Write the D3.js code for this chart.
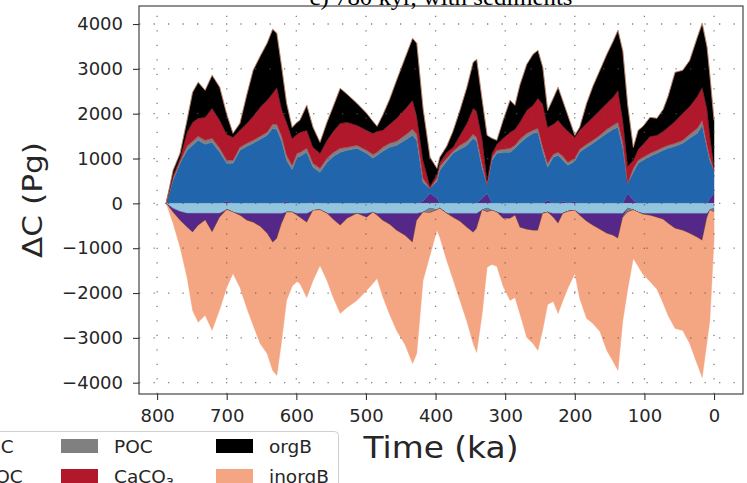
<!DOCTYPE html>
<html><head><meta charset="utf-8">
<script src="https://cdn.jsdelivr.net/npm/d3@7"></script>
<style>body{margin:0;background:#fff}svg{display:block}</style>
</head><body>
<svg id="c" width="747" height="483"></svg>
<script>
// ---- data (Pg C) ----
const timeKa = [787,777,767,757,749,741,731,721,710,700,691,681,671,662,652,642,634,628,621,614,606,599,595,585,576,566,556,547,537,527,513,499,490,484,476,466,456,444,433,427,418,408,398,394,384,375,365,355,346,341,333,326,319,312,303,293,286,279,269,260,253,246,239,231,224,217,210,200,193,183,174,164,154,145,138,131,124,116,109,102,92,82,73,66,56,45,35,24,17,10,6,0];
const DOC    = [0,-112,-180,-223,-223,-223,-223,-223,-223,-140,-200,-225,-225,-225,-225,-225,-225,-225,-225,-200,-200,-225,-225,-225,-160,-150,-225,-225,-225,-225,-225,-225,-200,-225,-225,-225,-225,-225,-225,-225,-200,-110,-150,-112,-225,-225,-225,-225,-225,-225,-150,-110,-160,-200,-225,-225,-225,-225,-225,-225,-225,-225,-200,-225,-225,-225,-180,-160,-225,-225,-225,-225,-225,-225,-225,-225,-110,-150,-200,-225,-225,-225,-225,-225,-225,-225,-225,-225,-225,-225,-150,-110];
const landC  = [0,-90,-200,-312,-424,-268,-156,-424,-89,45,0,-45,-156,-201,-290,-446,-647,-558,-223,45,0,-45,-89,-201,30,0,0,-134,-268,-112,0,-89,20,-45,-156,-245,-379,-491,-647,-156,45,223,112,0,0,-89,-178,-312,-424,-335,112,223,0,0,-112,-112,-45,-312,-357,-379,-379,0,67,-89,-223,45,0,45,-45,-178,-268,-357,-446,-491,-558,-89,223,67,0,-22,-45,-89,-134,-223,-335,-379,-446,-535,-602,-89,112,223];
const DIC    = [0,513,893,1183,1294,1406,1317,1361,1138,848,893,1183,1272,1339,1428,1518,1674,1650,1383,915,758,1026,1048,1138,773,692,915,1048,1138,1183,1228,1116,984,1071,1160,1250,1294,1406,1518,1406,423,112,379,736,937,1116,1205,1294,1450,1383,669,201,959,1116,1138,1138,1228,1339,1473,1562,1584,1160,736,1026,1071,915,848,892,1138,1250,1339,1450,1562,1651,1696,1228,223,625,892,959,1048,1116,1183,1228,1272,1339,1450,1562,1741,1228,848,513];
const POC    = [0,45,45,89,89,89,89,89,89,67,67,67,67,67,67,67,89,112,112,112,89,89,89,89,89,89,89,89,89,67,67,67,89,67,89,89,89,112,134,134,89,-100,67,89,67,45,89,89,89,89,89,-80,67,67,67,89,67,89,89,67,89,89,89,67,67,89,67,67,67,67,67,67,89,89,112,112,-80,89,67,67,67,67,67,67,67,67,89,112,112,67,67,-80];
const CaCO3  = [0,67,67,312,424,402,513,670,625,580,513,379,446,536,647,714,692,825,602,736,602,424,446,402,357,335,402,468,558,558,446,446,468,468,379,424,513,580,647,402,402,45,89,89,134,89,223,402,580,580,558,89,89,134,245,357,357,379,513,558,669,959,803,669,714,669,691,468,424,468,513,558,580,624,714,513,379,178,245,290,379,335,357,402,491,602,624,714,736,803,491,67];
const orgB   = [0,112,112,268,670,803,603,737,737,446,89,156,647,1027,1138,1272,1428,1205,937,424,245,268,268,558,446,245,402,558,781,625,491,379,268,112,335,558,848,1138,1384,1628,1160,647,134,112,134,357,558,803,1026,1160,870,1004,335,89,402,714,535,826,1026,1138,1071,826,379,580,736,558,357,45,67,446,692,892,1093,1250,1339,1540,1361,290,424,402,424,379,491,692,1093,959,1026,1317,1428,1383,1339,1048];
const inorgB = [0,-245,-600,-1116,-1741,-2163,-2119,-2185,-2052,-1735,-1362,-1605,-1962,-2297,-2610,-2677,-2855,-3056,-2610,-1965,-1651,-1470,-1472,-1672,-1559,-1234,-1494,-1739,-1962,-1984,-1940,-1628,-1586,-1404,-1695,-2008,-2231,-2431,-2699,-2967,-1519,-950,-452,-646,-1047,-1381,-1762,-2097,-2476,-2766,-2305,-1237,-1201,-1205,-1514,-1828,-1828,-1918,-2409,-2521,-2677,-2587,-2054,-1873,-2007,-1940,-1716,-1402,-1850,-2164,-2185,-2275,-2610,-2811,-2944,-2298,-1728,-1078,-1205,-1337,-1470,-1604,-1873,-2052,-2230,-2231,-2454,-2834,-3057,-2766,-2462,-635];

const seriesKeys   = ["DOC","landC","DIC","POC","CaCO3","orgB","inorgB"];
const seriesValues = [DOC, landC, DIC, POC, CaCO3, orgB, inorgB];
const seriesColors = ["#92c5de","#542788","#2166ac","#808080","#b2182b","#000000","#f4a582"];
const xTicks = [800,700,600,500,400,300,200,100,0];
const yTicks = [4000,3000,2000,1000,0,-1000,-2000,-3000,-4000];
const titleText = "c) 780 kyr, with sediments";
const xLabel = "Time (ka)";
const yLabel = "ΔC (Pg)";
// legend, column-major (first column falls outside the picture)
const legendCols = [
  [{k:"landC"}],
  [{k:"DIC",label:"DIC"},{k:"DOC",label:"DOC"}],
  [{k:"POC",label:"POC"},{k:"CaCO3",label:"CaCO",sub:"3"}],
  [{k:"orgB",label:"orgB"},{k:"inorgB",label:"inorgB"}]
];

// ---- layout ----
const plot = {l:139, t:6, r:743, b:394};
const x = d3.scaleLinear().domain([826, -41.6]).range([plot.l, plot.r]);
const y = d3.scaleLinear().domain([-4252, 4402]).range([plot.b, plot.t]);
const color = d3.scaleOrdinal().domain(seriesKeys).range(seriesColors);

const svg = d3.select("#c");
svg.append("defs").append("clipPath").attr("id","clip")
  .append("rect").attr("x",plot.l).attr("y",plot.t).attr("width",plot.r-plot.l).attr("height",plot.b-plot.t);

// rows split into positive and negative parts, stacked separately
const posRows = timeKa.map((t,i)=>{const o={t}; seriesKeys.forEach((k,j)=>o[k]=Math.max(0,seriesValues[j][i])); return o;});
const negRows = timeKa.map((t,i)=>{const o={t}; seriesKeys.forEach((k,j)=>o[k]=Math.min(0,seriesValues[j][i])); return o;});
const stackPos = d3.stack().keys(seriesKeys)(posRows);
const stackNeg = d3.stack().keys(seriesKeys)(negRows);

const area = d3.area().x(d=>x(d.data.t)).y0(d=>y(d[0])).y1(d=>y(d[1]));
const gA = svg.append("g").attr("clip-path","url(#clip)");
[stackPos, stackNeg].forEach(st=>{
  gA.selectAll(null).data(st).enter().append("path")
    .attr("d", area)
    .attr("fill", d=>color(d.key))
    .attr("stroke", d=>color(d.key))
    .attr("stroke-width", 0.4);
});

// grid (dotted), drawn over the areas
const gG = svg.append("g").attr("stroke","#555").attr("stroke-opacity",0.75)
  .attr("stroke-width",1.3).attr("stroke-dasharray","1.3,13.2");
gG.selectAll(null).data(xTicks).enter().append("line")
  .attr("x1",d=>x(d)).attr("x2",d=>x(d)).attr("y1",plot.b).attr("y2",plot.t);
gG.selectAll(null).data(yTicks).enter().append("line")
  .attr("y1",d=>y(d)).attr("y2",d=>y(d)).attr("x1",plot.l).attr("x2",plot.r);

// frame
svg.append("rect").attr("x",plot.l).attr("y",plot.t).attr("width",plot.r-plot.l).attr("height",plot.b-plot.t)
  .attr("fill","none").attr("stroke","#333").attr("stroke-width",1.1);

// axes
const fontTick = "DejaVu Sans, sans-serif";
const ax = svg.append("g").attr("transform",`translate(0,${plot.b})`)
  .call(d3.axisBottom(x).tickValues(xTicks).tickSize(6).tickPadding(9).tickFormat(d3.format("d")));
const ay = svg.append("g").attr("transform",`translate(${plot.l},0)`)
  .call(d3.axisLeft(y).tickValues(yTicks).tickSize(6).tickPadding(10).tickFormat(d3.format("d")));
[ax,ay].forEach(a=>{
  a.select(".domain").remove();
  a.selectAll(".tick line").attr("stroke","#333").attr("stroke-width",1.1);
  a.selectAll(".tick text").attr("fill","#262626").style("font-family",fontTick).style("font-size","18px");
});

// labels
svg.append("text").attr("x",441).attr("y",458).attr("text-anchor","middle")
  .style("font-family",fontTick).style("font-size","30px").attr("fill","#262626")
  .attr("textLength",155).attr("lengthAdjust","spacingAndGlyphs").text(xLabel);
svg.append("text").attr("transform","translate(42,200) rotate(-90)").attr("text-anchor","middle")
  .style("font-family",fontTick).style("font-size","26px").attr("fill","#262626")
  .attr("textLength",116).attr("lengthAdjust","spacingAndGlyphs").text(yLabel);
svg.append("text").attr("x",441).attr("y",5).attr("text-anchor","middle")
  .style("font-family","Liberation Serif, serif").style("font-size","24px").attr("fill","#000")
  .attr("textLength",263).attr("lengthAdjust","spacingAndGlyphs").text(titleText);

// legend
const lg = svg.append("g");
lg.append("rect").attr("x",-220).attr("y",431.5).attr("width",558.5).attr("height",90).attr("rx",4)
  .attr("fill","#fff").attr("stroke","#cfcfcf").attr("stroke-width",1);
const colPatchX = [-250,-94,61,216];
legendCols.forEach((col,ci)=>{
  col.forEach((it,ri)=>{
    const py = 439 + ri*30;
    lg.append("rect").attr("x",colPatchX[ci]).attr("y",py).attr("width",37).attr("height",14)
      .attr("fill",color(it.k));
    if(!it.label) return;
    const tx = ci===1 ? -19 : colPatchX[ci]+53;
    const t = lg.append("text").attr("x",tx).attr("y",py+13.5)
      .style("font-family",fontTick).style("font-size","18.5px").attr("fill","#262626").text(it.label);
    if(it.sub) t.append("tspan").attr("dy",4).style("font-size","13px").text(it.sub);
  });
});
</script>
</body></html>
